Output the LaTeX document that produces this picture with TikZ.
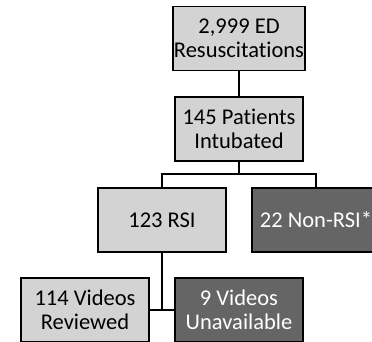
\documentclass[tikz,border=0pt]{standalone}
\usepackage{fontspec}
\setmainfont[Ligatures={NoCommon,NoContextual}]{Carlito}
\usetikzlibrary{backgrounds}
\pgfdeclarelayer{edgelayer}
\pgfdeclarelayer{nodelayer}
\pgfsetlayers{edgelayer,nodelayer,main}
\definecolor{lightbox}{HTML}{D3D3D3}
\definecolor{darkbox}{HTML}{656565}
\tikzset{font=\fontsize{22.5}{23.5}\selectfont}
\tikzstyle{none}=[inner sep=0pt]
\tikzstyle{box}=[rectangle,draw=black,line width=1.5pt,fill=lightbox,align=center,minimum width=128pt,minimum height=64pt,inner sep=1pt]
\tikzstyle{darkbox}=[box,fill=darkbox,text=white]
\tikzstyle{edge}=[line width=1.5pt]

\begin{document}
\begin{tikzpicture}[x=1pt,y=-1pt]
	\useasboundingbox (0, 0) rectangle (372, 341);
	\clip (0, 0) rectangle (372, 341);
	\begin{pgfonlayer}{nodelayer}
		\node [style=box] (0) at (239, 38.5) {2,999 ED\\Resuscitations};
		\node [style=box] (1) at (239, 129) {145 Patients\\Intubated};
		\node [style=box] (2) at (162, 220) {123 RSI};
		\node [style=darkbox] (3) at (316, 220) {22 Non-RSI*};
		\node [style=box] (4) at (85, 310) {114 Videos\\Reviewed};
		\node [style=darkbox] (5) at (239, 310) {9 Videos\\Unavailable};
		\coordinate (6) at (239, 174);
	\end{pgfonlayer}
	\begin{pgfonlayer}{edgelayer}
		\draw[style=edge] (0.south) to (1.south);
		\draw[style=edge] (1.south) to (6);
		\draw[style=edge] (2.north) |- (6) -| (3.north);
		\draw[style=edge] (2.south) to (2.south |- 4.east);
		\draw[style=edge] (4.east) to (5.west);
	\end{pgfonlayer}
\end{tikzpicture}
\end{document}
